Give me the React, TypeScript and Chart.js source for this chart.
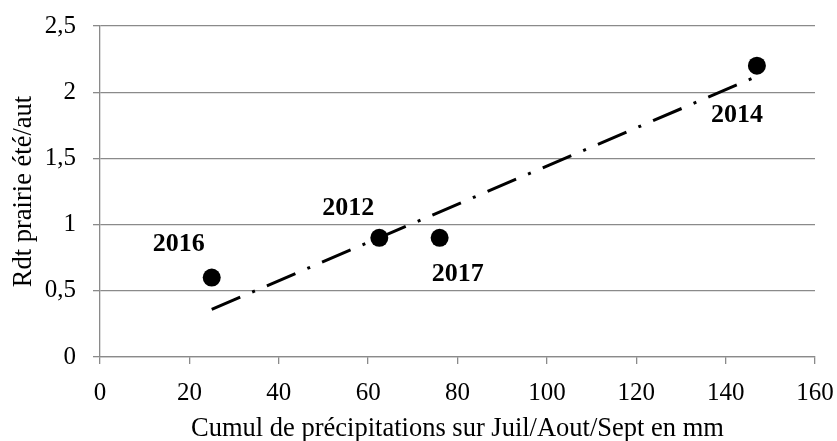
import React, { useEffect, useRef } from "react";
import { Chart, registerables } from "chart.js";

Chart.register(...registerables);

// ---- data ----
const years = ["2016", "2012", "2017", "2014"];
const precipitation = [25, 62.5, 76, 147];
const yieldRatio = [0.6, 0.9, 0.9, 2.2];
const trendX = [25, 147];
const trendY = [0.36, 2.12];
const xTickValues = [0, 20, 40, 60, 80, 100, 120, 140, 160];
const yTickValues = [0, 0.5, 1, 1.5, 2, 2.5];

const xTitle = "Cumul de précipitations sur Juil/Aout/Sept en mm";
const yTitle = "Rdt prairie été/aut";

// label offsets (px) relative to each point
const labelOffsets: [number, number][] = [
  [-33, -33],
  [-31, -30],
  [18, 36],
  [-20, 50],
];

const FONT = "'Liberation Serif', 'Times New Roman', serif";
const GRID = "#8a8a8a";

const pointLabels = {
  id: "pointLabels",
  afterDatasetsDraw(chart: any) {
    const meta = chart.getDatasetMeta(0);
    const ctx = chart.ctx;
    ctx.save();
    ctx.font = `bold 26px ${FONT}`;
    ctx.fillStyle = "#000";
    ctx.textAlign = "center";
    ctx.textBaseline = "middle";
    meta.data.forEach((el: any, i: number) => {
      const [dx, dy] = labelOffsets[i];
      ctx.fillText(years[i], el.x + dx, el.y + dy);
    });
    ctx.restore();
  },
};

export default function App() {
  const ref = useRef<HTMLCanvasElement | null>(null);
  useEffect(() => {
    if (!ref.current) return;
    const chart = new Chart(ref.current, {
      type: "scatter",
      data: {
        datasets: [
          {
            label: "points",
            data: precipitation.map((x, i) => ({ x, y: yieldRatio[i] })),
            pointRadius: 9,
            pointHoverRadius: 9,
            backgroundColor: "#000",
            borderColor: "#000",
            borderWidth: 0,
            order: 2,
          },
          {
            label: "trend",
            type: "line",
            data: trendX.map((x, i) => ({ x, y: trendY[i] })),
            showLine: true,
            pointRadius: 0,
            borderColor: "#000",
            borderWidth: 3,
            borderDash: [31, 13, 3, 13],
            borderCapStyle: "butt",
            fill: false,
            order: 1,
          } as any,
        ],
      },
      options: {
        responsive: false,
        animation: false,
        layout: { padding: { top: 26, right: 22, left: 0, bottom: 0 } },
        plugins: {
          legend: { display: false },
          tooltip: { enabled: false },
        },
        scales: {
          x: {
            type: "linear",
            min: 0,
            max: 160,
            afterBuildTicks: (s: any) => {
              s.ticks = xTickValues.map((v) => ({ value: v }));
            },
            afterFit: (s: any) => {
              s.height = 84;
              s.paddingRight = 0;
              s.paddingLeft = 0;
            },
            ticks: {
              font: { family: FONT, size: 25 },
              color: "#000",
              padding: 14,
              maxRotation: 0,
            },
            grid: {
              drawOnChartArea: false,
              drawTicks: true,
              tickLength: 7,
              color: GRID,
              lineWidth: 1.3,
            },
            border: { display: true, color: GRID, width: 1.3 },
            title: {
              display: true,
              text: xTitle,
              font: { family: FONT, size: 26.5 },
              color: "#000",
              padding: { top: 0, bottom: -4 },
            },
          },
          y: {
            type: "linear",
            min: 0,
            max: 2.5,
            afterBuildTicks: (s: any) => {
              s.ticks = yTickValues.map((v) => ({ value: v }));
            },
            afterFit: (s: any) => {
              s.width = 100;
              s.paddingTop = 0;
              s.paddingBottom = 0;
            },
            ticks: {
              font: { family: FONT, size: 25 },
              color: "#000",
              padding: 17,
              callback: (v: any) => String(v).replace(".", ","),
            },
            grid: {
              drawOnChartArea: true,
              drawTicks: true,
              tickLength: 7,
              color: GRID,
              lineWidth: 1.3,
            },
            border: { display: true, color: GRID, width: 1.3 },
            title: {
              display: true,
              text: yTitle,
              font: { family: FONT, size: 26.5 },
              color: "#000",
              padding: { top: 8, bottom: 0 },
            },
          },
        },
      },
      plugins: [pointLabels],
    });
    return () => chart.destroy();
  }, []);

  return (
    <div style={{ position: "fixed", left: 0, top: 0, width: 837, height: 441, background: "#fff" }}>
      <canvas ref={ref} width={837} height={441} style={{ display: "block" }} />
    </div>
  );
}
